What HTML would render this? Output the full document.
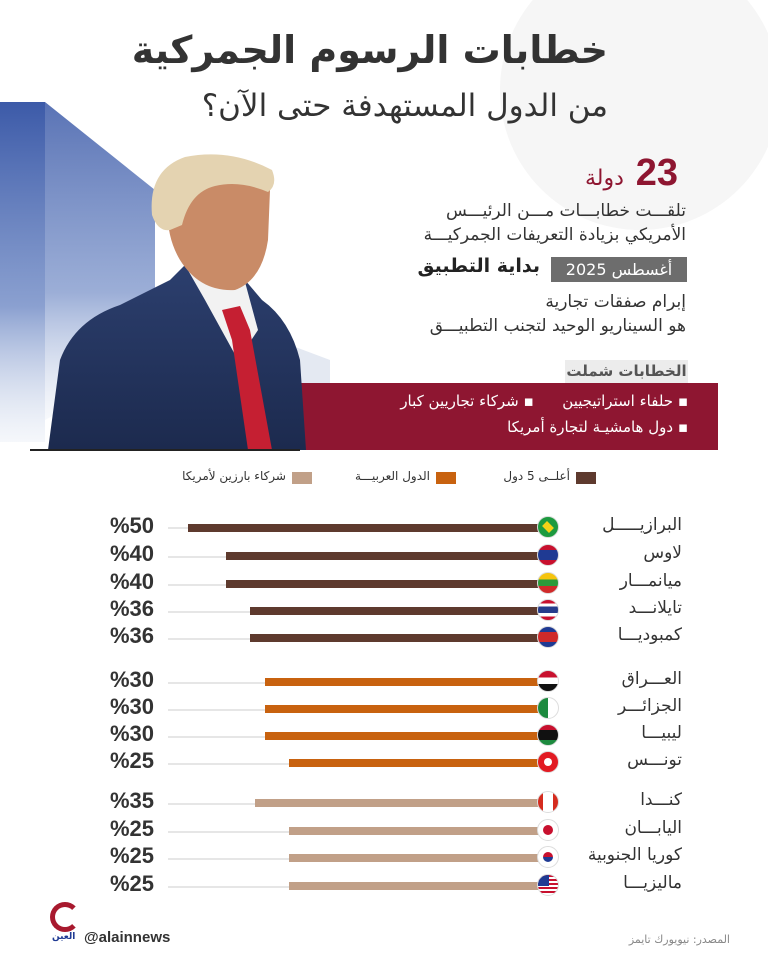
<!DOCTYPE html>
<html><head><meta charset="utf-8"><style>
*{margin:0;padding:0;box-sizing:border-box}
body{width:768px;height:960px;background:#fff;position:relative;overflow:hidden;font-family:"DejaVu Sans","Liberation Sans",sans-serif;color:#333}
.a{position:absolute;white-space:nowrap}
.r{direction:rtl;text-align:right}
.lbl{position:absolute;right:86px;font-size:17px;color:#333;direction:rtl;text-align:right;width:150px}
.pct{position:absolute;right:614px;font-size:22px;font-weight:bold;color:#333;font-family:"Liberation Sans",sans-serif}
.trk{position:absolute;left:168px;height:2px;background:#e6e6e6;width:380px}
.bar{position:absolute;height:8px}
.flag{position:absolute;left:537px;width:22px;height:22px;border-radius:50%;border:1px solid #ddd;overflow:hidden}
</style></head><body>
<svg class="a" style="left:0;top:0" width="768" height="960">
<defs>
<linearGradient id="cg" x1="0" y1="0" x2="0" y2="1"><stop offset="0" stop-color="#3c5aa8"/><stop offset="0.6" stop-color="#6d88c4" stop-opacity="0.8"/><stop offset="1" stop-color="#dfe6f2" stop-opacity="0.3"/></linearGradient>
<linearGradient id="sg" x1="0" y1="0" x2="0" y2="1"><stop offset="0" stop-color="#2c3f6e"/><stop offset="1" stop-color="#1c2a4e"/></linearGradient>
</defs>
<circle cx="640" cy="90" r="140" fill="#f6f6f6"/>
<rect x="0" y="102" width="45" height="340" fill="url(#cg)"/>
<polygon points="45,102 155,190 155,360 45,420" fill="url(#cg)" opacity="0.85"/>
<polygon points="250,330 330,360 330,430 250,430" fill="#c9d3e6" opacity="0.5"/>
<rect x="293" y="383" width="425" height="67" fill="#8e1631"/>
<path d="M48,450 L60,360 Q75,320 120,305 L170,280 L185,265 L245,280 L262,300 Q290,320 300,360 L306,450 Z" fill="url(#sg)"/>
<path d="M185,265 L245,282 L258,330 L238,360 L205,300 Z" fill="#f2f2f2"/>
<path d="M222,310 L240,306 L250,330 L272,450 L248,450 L232,340 Z" fill="#c51f32"/>
<path d="M170,175 Q175,155 215,158 Q262,160 270,190 L268,240 Q262,280 235,290 Q200,292 180,260 Q165,235 168,200 Z" fill="#c98b67"/>
<path d="M152,215 Q148,170 185,157 Q230,148 272,170 Q278,185 268,192 Q240,180 215,186 Q190,192 182,225 L170,230 Q158,232 152,215 Z" fill="#e4d3b1"/>
<rect x="30" y="449" width="270" height="2" fill="#222"/>
</svg>

<div class="a r" style="right:160px;top:28px;font-size:38px;font-weight:bold;color:#333">خطابات الرسوم الجمركية</div>
<div class="a r" style="right:160px;top:88px;font-size:31px;color:#333">من الدول المستهدفة حتى الآن؟</div>

<div class="a r" style="right:90px;top:152px;font-size:34px;font-weight:bold;color:#8e1631"><span style="font-family:'Liberation Sans';font-size:38px">23</span> <span style="font-size:22px;font-weight:normal">دولة</span></div>
<div class="a r" style="right:82px;top:199px;font-size:17px;line-height:24px">تلقـــت خطابـــات مـــن الرئيـــس<br>الأمريكي بزيادة التعريفات الجمركيـــة</div>
<div class="a" style="left:551px;top:257px;width:136px;height:25px;background:#6d6d6d;color:#fff;font-size:16px;direction:rtl;text-align:center;line-height:25px">أغسطس 2025</div>
<div class="a r" style="right:228px;top:255px;font-size:19px;font-weight:bold;color:#222">بداية التطبيق</div>
<div class="a r" style="right:82px;top:290px;font-size:17px;line-height:24px">إبرام صفقات تجارية<br>هو السيناريو الوحيد لتجنب التطبيـــق</div>
<div class="a" style="left:565px;top:360px;width:123px;height:23px;background:#ececec;color:#555;font-size:15px;font-weight:bold;direction:rtl;text-align:center;line-height:23px">الخطابات شملت</div>
<div class="a r" style="right:80px;top:392px;font-size:15px;color:#fff">▪ حلفاء استراتيجيين &nbsp;&nbsp;&nbsp;&nbsp; ▪ شركاء تجاريين كبار</div>
<div class="a r" style="right:80px;top:418px;font-size:15px;color:#fff">▪ دول هامشيـة لتجارة أمريكا</div>

<div class="a" style="left:576px;top:472px;width:20px;height:12px;background:#5e3a2e"></div>
<div class="a r" style="right:198px;top:469px;font-size:12px">أعلــى 5 دول</div>
<div class="a" style="left:436px;top:472px;width:20px;height:12px;background:#c8620f"></div>
<div class="a r" style="right:338px;top:469px;font-size:12px">الدول العربيـــة</div>
<div class="a" style="left:292px;top:472px;width:20px;height:12px;background:#c1a088"></div>
<div class="a r" style="right:482px;top:469px;font-size:12px">شركاء بارزين لأمريكا</div>

<div class="trk" style="top:527px"></div><div class="bar" style="top:524px;left:188px;width:360px;background:#5e3a2e"></div>
<div class="flag" style="top:516px;background:#1d9a3f"><div style="margin:5px 3px;width:14px;height:10px;background:#f5d117;transform:rotate(45deg) scale(.7)"></div></div>
<div class="lbl" style="top:515px">البرازيـــــل</div><div class="pct" style="top:513px">%50</div>

<div class="trk" style="top:556px"></div><div class="bar" style="top:552px;left:226px;width:322px;background:#5e3a2e"></div>
<div class="flag" style="top:544px;background:linear-gradient(#c8102e 25%,#1f3a93 25%,#1f3a93 75%,#c8102e 75%)"></div>
<div class="lbl" style="top:543px">لاوس</div><div class="pct" style="top:541px">%40</div>

<div class="trk" style="top:584px"></div><div class="bar" style="top:580px;left:226px;width:322px;background:#5e3a2e"></div>
<div class="flag" style="top:572px;background:linear-gradient(#f6c40e 33%,#2b9a3a 33%,#2b9a3a 66%,#d02a2a 66%)"></div>
<div class="lbl" style="top:571px">ميانمـــار</div><div class="pct" style="top:569px">%40</div>

<div class="trk" style="top:611px"></div><div class="bar" style="top:607px;left:250px;width:298px;background:#5e3a2e"></div>
<div class="flag" style="top:599px;background:linear-gradient(#c8102e 18%,#fff 18%,#fff 33%,#263c8c 33%,#263c8c 66%,#fff 66%,#fff 82%,#c8102e 82%)"></div>
<div class="lbl" style="top:598px">تايلانـــد</div><div class="pct" style="top:596px">%36</div>

<div class="trk" style="top:638px"></div><div class="bar" style="top:634px;left:250px;width:298px;background:#5e3a2e"></div>
<div class="flag" style="top:626px;background:linear-gradient(#1f3a93 25%,#d02a2a 25%,#d02a2a 75%,#1f3a93 75%)"></div>
<div class="lbl" style="top:625px">كمبوديـــا</div><div class="pct" style="top:623px">%36</div>

<div class="trk" style="top:682px"></div><div class="bar" style="top:678px;left:265px;width:283px;background:#c8620f"></div>
<div class="flag" style="top:670px;background:linear-gradient(#c8102e 33%,#fff 33%,#fff 66%,#111 66%)"></div>
<div class="lbl" style="top:669px">العـــراق</div><div class="pct" style="top:667px">%30</div>

<div class="trk" style="top:709px"></div><div class="bar" style="top:705px;left:265px;width:283px;background:#c8620f"></div>
<div class="flag" style="top:697px;background:linear-gradient(90deg,#1d8a3f 50%,#fff 50%)"></div>
<div class="lbl" style="top:696px">الجزائـــر</div><div class="pct" style="top:694px">%30</div>

<div class="trk" style="top:736px"></div><div class="bar" style="top:732px;left:265px;width:283px;background:#c8620f"></div>
<div class="flag" style="top:724px;background:linear-gradient(#c8102e 25%,#111 25%,#111 75%,#1d8a3f 75%)"></div>
<div class="lbl" style="top:723px">ليبيـــا</div><div class="pct" style="top:721px">%30</div>

<div class="trk" style="top:763px"></div><div class="bar" style="top:759px;left:289px;width:259px;background:#c8620f"></div>
<div class="flag" style="top:751px;background:#e21b23"><div style="margin:6px;width:8px;height:8px;border-radius:50%;background:#fff"></div></div>
<div class="lbl" style="top:750px">تونـــس</div><div class="pct" style="top:748px">%25</div>

<div class="trk" style="top:803px"></div><div class="bar" style="top:799px;left:255px;width:293px;background:#c1a088"></div>
<div class="flag" style="top:791px;background:linear-gradient(90deg,#d52b1e 25%,#fff 25%,#fff 75%,#d52b1e 75%)"></div>
<div class="lbl" style="top:790px">كنـــدا</div><div class="pct" style="top:788px">%35</div>

<div class="trk" style="top:831px"></div><div class="bar" style="top:827px;left:289px;width:259px;background:#c1a088"></div>
<div class="flag" style="top:819px;background:#fff"><div style="margin:5px;width:10px;height:10px;border-radius:50%;background:#c8102e"></div></div>
<div class="lbl" style="top:818px">اليابـــان</div><div class="pct" style="top:816px">%25</div>

<div class="trk" style="top:858px"></div><div class="bar" style="top:854px;left:289px;width:259px;background:#c1a088"></div>
<div class="flag" style="top:846px;background:#fff"><div style="margin:5px;width:10px;height:10px;border-radius:50%;background:linear-gradient(#c8102e 50%,#1f3a93 50%)"></div></div>
<div class="lbl" style="top:845px">كوريا الجنوبية</div><div class="pct" style="top:843px">%25</div>

<div class="trk" style="top:886px"></div><div class="bar" style="top:882px;left:289px;width:259px;background:#c1a088"></div>
<div class="flag" style="top:874px;background:repeating-linear-gradient(#c8102e 0 2px,#fff 2px 4px)"><div style="width:11px;height:11px;background:#1f3a93"></div></div>
<div class="lbl" style="top:873px">ماليزيـــا</div><div class="pct" style="top:871px">%25</div>

<div class="a" style="left:50px;top:902px;width:30px;height:30px;border:5px solid #a8192e;border-radius:50%;border-right-color:transparent"></div>
<div class="a" style="left:52px;top:932px;font-size:9px;color:#1f3a93;font-weight:bold">العين</div>
<div class="a" style="left:84px;top:929px;font-size:15px;font-weight:bold;color:#333;font-family:'Liberation Sans',sans-serif">@alainnews</div>
<div class="a r" style="right:38px;top:933px;font-size:11px;color:#888">المصدر: نيويورك تايمز</div>
</body></html>
